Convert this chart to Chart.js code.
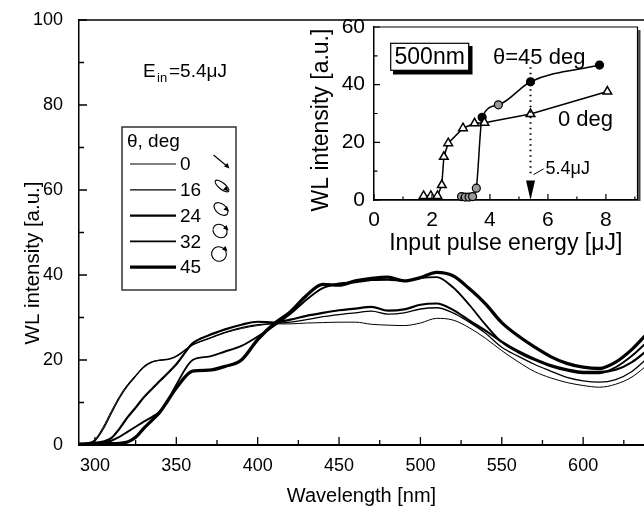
<!DOCTYPE html>
<html><head><meta charset="utf-8">
<script src="https://cdn.jsdelivr.net/npm/chart.js@4.4.1/dist/chart.umd.min.js"></script>
<style>
html,body{margin:0;padding:0;background:#fff;overflow:hidden;width:644px;height:508px;}
#main{position:absolute;left:0;top:0;}
#inset{position:absolute;left:300px;top:0;}
</style></head><body>
<canvas id="main" width="644" height="508" style="width:644px;height:508px"></canvas>
<canvas id="inset" width="344" height="266" style="width:344px;height:266px"></canvas>
<script>
// ---------- main plot data ----------
const wavelength = [290,295,300,305,310,315,320,325,330,335,340,345,350,360,370,380,390,400,410,420,430,440,450,460,470,480,490,500,510,520,530,540,550,560,570,580,590,600,610,620,630,640];
const deg0  = [0.3,0.5,1.3,4.2,7.9,11.4,14.2,16.4,18.5,19.6,19.9,20.1,20.8,23.5,25.0,26.4,27.4,28.1,28.5,28.5,28.7,28.8,28.9,28.9,28.4,28.2,28.1,28.7,29.8,29.4,27.6,25.1,22.2,19.6,17.3,15.8,14.7,14.0,13.6,14.3,16.0,19.0];
const deg16 = [0.3,0.4,1.0,3.7,7.4,11.0,13.9,16.2,18.3,19.5,20.0,20.2,20.9,23.6,25.1,26.5,27.6,28.3,28.6,28.9,29.5,30.2,30.7,31.1,31.5,30.8,31.1,32.0,32.3,31.1,28.9,26.3,23.0,20.9,19.0,17.4,15.9,15.1,14.8,15.4,17.3,20.6];
const deg24 = [0.3,0.3,0.5,0.8,1.6,3.8,6.5,8.8,11.2,13.2,15.1,17.0,19.0,23.9,25.8,27.2,28.3,29.0,28.8,29.5,30.4,31.1,31.7,32.1,32.5,31.6,31.9,33.0,33.3,31.8,29.3,26.9,24.3,22.1,20.3,18.8,17.8,17.2,17.2,17.7,19.5,22.5];
const deg32 = [0.2,0.3,0.4,0.6,1.0,1.9,3.1,4.3,5.5,6.6,7.9,10.6,14.2,20.0,20.8,22.0,23.3,25.5,28.0,30.8,34.2,36.9,38.0,38.3,38.8,38.9,38.6,39.3,39.5,37.1,33.0,28.3,24.2,21.8,20.0,18.5,17.5,16.9,16.9,18.3,21.0,24.5];
const deg45 = [0.2,0.2,0.2,0.3,0.3,0.4,0.7,1.8,3.9,5.8,7.8,10.6,13.4,17.4,17.6,18.5,20.0,24.8,28.5,31.3,35.2,37.8,37.6,38.6,39.2,39.5,38.6,39.4,40.6,39.8,36.8,33.2,28.8,25.7,23.1,20.8,19.2,18.3,18.0,19.5,22.5,26.5];
const seriesLabels = ['0','16','24','32','45'];
const seriesWidths = [1.0,1.3,2.2,1.9,3.3];
const xMajorTicks = [300,350,400,450,500,550,600,650];
const xMinorTicks = [325,375,425,475,525,575,625];
const yMajorTicks = [0,20,40,60,80,100];
const yMinorTicks = [10,30,50,70,90];

// ---------- inset data ----------
const energy0deg = [1.71,1.96,2.19,2.34,2.41,2.56,3.07,3.47,3.81,5.4,8.05];
const wl0deg     = [1.4,1.4,1.4,5.2,15.0,19.7,24.9,26.6,26.8,29.8,37.6];
const energy45deg = [3.02,3.15,3.28,3.40,3.53,3.73,4.29,5.4,7.78];
const wl45deg     = [1.2,1.0,1.0,1.2,4.1,28.7,33.0,41.0,46.8];
const insetXMajor = [0,2,4,6,8];
const insetXMinor = [1,3,5,7,9];
const insetYMajor = [0,20,40,60];
const insetYMinor = [10,30,50];
const markedEnergy = 5.4;

const FAM = '"Liberation Sans", Arial, Helvetica, sans-serif';

function tickMarks(ctx, scale, ca, vals, len, horiz){
  ctx.beginPath();
  for (const v of vals){
    const p = scale.getPixelForValue(v);
    if (horiz){ if (p < ca.left-0.5 || p > ca.right+0.5) continue; ctx.moveTo(p, ca.bottom); ctx.lineTo(p, ca.bottom-len); }
    else { if (p < ca.top-0.5 || p > ca.bottom+0.5) continue; ctx.moveTo(ca.left, p); ctx.lineTo(ca.left+len, p); }
  }
  ctx.stroke();
}
function noPadX(s){ s.paddingLeft=0; s.paddingRight=0; }
function noPadY(s){ s.paddingTop=0; s.paddingBottom=0; }

const mainDecor = {
  id:'mainDecor',
  afterDraw(chart){
    const {ctx, chartArea:ca, scales:{x,y}} = chart;
    ctx.save();
    ctx.strokeStyle='#000'; ctx.lineWidth=1.5;
    ctx.beginPath(); ctx.moveTo(ca.left, ca.top); ctx.lineTo(ca.right, ca.top); ctx.stroke();
    ctx.lineWidth=1.3;
    tickMarks(ctx,x,ca,xMajorTicks,8,true);
    tickMarks(ctx,x,ca,xMinorTicks,5,true);
    tickMarks(ctx,y,ca,yMajorTicks,8,false);
    tickMarks(ctx,y,ca,yMinorTicks,5,false);
    // y title
    ctx.fillStyle='#000';
    ctx.save();
    ctx.translate(33, 263); ctx.rotate(-Math.PI/2);
    ctx.font='20.5px '+FAM; ctx.textAlign='center'; ctx.textBaseline='middle';
    ctx.fillText('WL intensity [a.u.]',0,0);
    ctx.restore();
    // E_in label
    ctx.textAlign='left'; ctx.textBaseline='alphabetic';
    ctx.font='19px '+FAM; ctx.fillText('E',143,77);
    ctx.font='13px '+FAM; ctx.fillText('in',157,82);
    ctx.font='19px '+FAM; ctx.fillText('=5.4\u03bcJ',169,77);
    // legend box
    const lx=122, ly=127, lw=114, lh=163;
    ctx.fillStyle='#fff'; ctx.fillRect(lx,ly,lw,lh);
    ctx.strokeStyle='#333'; ctx.lineWidth=1.5; ctx.strokeRect(lx,ly,lw,lh);
    ctx.fillStyle='#000'; ctx.font='19px '+FAM; ctx.textBaseline='middle';
    ctx.fillText('\u03b8, deg',127,142);
    chart.data.datasets.forEach((ds,i)=>{
      const yy = 164 + i*25.8;
      ctx.strokeStyle='#000'; ctx.lineWidth=ds.borderWidth;
      ctx.beginPath(); ctx.moveTo(130,yy); ctx.lineTo(176,yy); ctx.stroke();
      ctx.font='19px '+FAM; ctx.fillText(ds.label,180,yy+1);
    });
    // polarization icons
    const rot = 0.68;
    ctx.lineWidth=1.1; ctx.strokeStyle='#000';
    ctx.beginPath(); ctx.moveTo(213.5,155); ctx.lineTo(228,167); ctx.stroke();
    const icons = [[222,186,8.5,3.2],[221,209,8,5],[220,231,7.5,6.3],[219,254,7.5,7.2]];
    icons.forEach(([cx,cy,a,b])=>{ ctx.beginPath(); ctx.ellipse(cx,cy,a,b,rot,0,Math.PI*2); ctx.stroke(); });
    const heads = [[228,167],[227,190],[227.5,210],[227,229],[226,250]];
    heads.forEach(([hx,hy])=>{ ctx.beginPath(); ctx.moveTo(hx+1.5,hy+1.5); ctx.lineTo(hx-4,hy-0.5); ctx.lineTo(hx-0.5,hy-4); ctx.closePath(); ctx.fill(); });
    ctx.restore();
  }
};

new Chart(document.getElementById('main'),{
  type:'line',
  data:{datasets:[deg0,deg16,deg24,deg32,deg45].map((vals,i)=>({
    label:seriesLabels[i],
    data:wavelength.map((w,j)=>({x:w,y:vals[j]})),
    borderColor:'#000', borderWidth:seriesWidths[i], pointRadius:0,
    cubicInterpolationMode:'monotone', fill:false
  }))},
  options:{
    responsive:false, animation:false, devicePixelRatio:1,
    layout:{padding:{top:20,right:0,left:0,bottom:0}},
    plugins:{legend:{display:false},tooltip:{enabled:false}},
    scales:{
      x:{type:'linear',min:290.2,max:637.4,
        afterBuildTicks:s=>{s.ticks=xMajorTicks.filter(v=>v<=637).map(v=>({value:v}));},
        afterFit:s=>{s.height=63; noPadX(s);},
        grid:{display:false,drawTicks:false},
        border:{display:true,color:'#000',width:2},
        ticks:{color:'#000',font:{family:FAM,size:18},padding:10,maxRotation:0,autoSkip:false},
        title:{display:true,text:'Wavelength [nm]',color:'#000',font:{family:FAM,size:20},padding:{top:0,bottom:0}}
      },
      y:{type:'linear',min:0,max:100,
        afterBuildTicks:s=>{s.ticks=yMajorTicks.map(v=>({value:v}));},
        afterFit:s=>{s.width=79; noPadY(s);},
        grid:{display:false,drawTicks:false},
        border:{display:true,color:'#000',width:1.5},
        ticks:{color:'#000',font:{family:FAM,size:18},padding:16}
      }
    }
  },
  plugins:[mainDecor]
});

const insetDecor = {
  id:'insetDecor',
  afterDraw(chart){
    const {ctx, chartArea:ca, scales:{x,y}} = chart;
    ctx.save();
    ctx.strokeStyle='#000'; ctx.lineWidth=1.2;
    ctx.beginPath(); ctx.moveTo(ca.left,ca.top); ctx.lineTo(ca.right,ca.top); ctx.lineTo(ca.right,ca.bottom); ctx.stroke();
    ctx.fillStyle='#444'; ctx.fillRect(ca.right+0.6, ca.top+3, 2.4, ca.bottom-ca.top-2);
    ctx.lineWidth=1.2;
    tickMarks(ctx,x,ca,insetXMajor,6,true);
    tickMarks(ctx,x,ca,insetXMinor,3.5,true);
    tickMarks(ctx,y,ca,insetYMajor,6,false);
    tickMarks(ctx,y,ca,insetYMinor,3.5,false);
    // y title
    ctx.fillStyle='#000';
    ctx.save();
    ctx.translate(22, 120); ctx.rotate(-Math.PI/2);
    ctx.font='23px '+FAM; ctx.textAlign='center'; ctx.textBaseline='middle';
    ctx.fillText('WL intensity [a.u.]',0,0);
    ctx.restore();
    // 500nm box
    const bx=90.7, by=43.3;
    ctx.fillStyle='#000'; ctx.fillRect(bx+2.3,by+2.7,79.5,28.5);
    ctx.fillStyle='#fff'; ctx.fillRect(bx,by,78,27);
    ctx.strokeStyle='#000'; ctx.lineWidth=1.2; ctx.strokeRect(bx,by,78,27);
    ctx.fillStyle='#000'; ctx.font='23px '+FAM; ctx.textAlign='center'; ctx.textBaseline='middle';
    ctx.fillText('500nm',bx+39,by+14.2);
    // labels
    ctx.textAlign='left';
    ctx.font='22px '+FAM; ctx.fillText('\u03b8=45 deg',193,58);
    ctx.fillText('0 deg',258,120);
    // dotted marker at 5.4 uJ
    const px = x.getPixelForValue(markedEnergy);
    ctx.setLineDash([1.5,4]); ctx.lineWidth=2;
    ctx.beginPath(); ctx.moveTo(px,y.getPixelForValue(46)); ctx.lineTo(px,y.getPixelForValue(8.5)); ctx.stroke();
    ctx.setLineDash([]);
    const ytop = y.getPixelForValue(6.8), ybot = y.getPixelForValue(0);
    ctx.beginPath(); ctx.moveTo(px-4.5,ytop); ctx.lineTo(px+4.5,ytop); ctx.lineTo(px,ybot); ctx.closePath(); ctx.fill();
    ctx.lineWidth=1;
    ctx.beginPath(); ctx.moveTo(px+3,y.getPixelForValue(8.8)); ctx.lineTo(px+13,y.getPixelForValue(10.8)); ctx.stroke();
    ctx.font='18px '+FAM; ctx.fillText('5.4\u03bcJ',px+15,169);
    ctx.restore();
  }
};

new Chart(document.getElementById('inset'),{
  type:'line',
  data:{datasets:[
    {label:'0 deg', data:energy0deg.map((e,i)=>({x:e,y:wl0deg[i]})),
      borderColor:'#000',borderWidth:1.5,tension:0,clip:false,
      pointStyle:'triangle',pointRadius:5,pointBackgroundColor:'#fff',pointBorderColor:'#000',pointBorderWidth:1.5},
    {label:'45 deg', data:energy45deg.map((e,i)=>({x:e,y:wl45deg[i]})),
      borderColor:'#000',borderWidth:1.5,cubicInterpolationMode:'monotone',clip:false,
      pointStyle:'circle',pointRadius:4,
      pointBackgroundColor:energy45deg.map((e,i)=>wl45deg[i]<5||i===6?'#999':'#000'),
      pointBorderColor:'#000',pointBorderWidth:1.2}
  ]},
  options:{
    responsive:false, animation:false, devicePixelRatio:1,
    layout:{padding:{top:27,right:4,left:0,bottom:0}},
    plugins:{legend:{display:false},tooltip:{enabled:false}},
    scales:{
      x:{type:'linear',min:0,max:9.09,
        afterBuildTicks:s=>{s.ticks=insetXMajor.map(v=>({value:v}));},
        afterFit:s=>{s.height=66; noPadX(s);},
        grid:{display:false,drawTicks:false},
        border:{display:true,color:'#000',width:1.8},
        ticks:{color:'#000',font:{family:FAM,size:21},padding:8,maxRotation:0,autoSkip:false},
        title:{display:true,text:'Input pulse energy [\u03bcJ]',color:'#000',font:{family:FAM,size:23},padding:{top:0,bottom:9}}
      },
      y:{type:'linear',min:0,max:60,
        afterBuildTicks:s=>{s.ticks=insetYMajor.map(v=>({value:v}));},
        afterFit:s=>{s.width=74; noPadY(s);},
        grid:{display:false,drawTicks:false},
        border:{display:true,color:'#000',width:1.5},
        ticks:{color:'#000',font:{family:FAM,size:21},padding:9}
      }
    }
  },
  plugins:[insetDecor]
});
</script>
</body></html>
